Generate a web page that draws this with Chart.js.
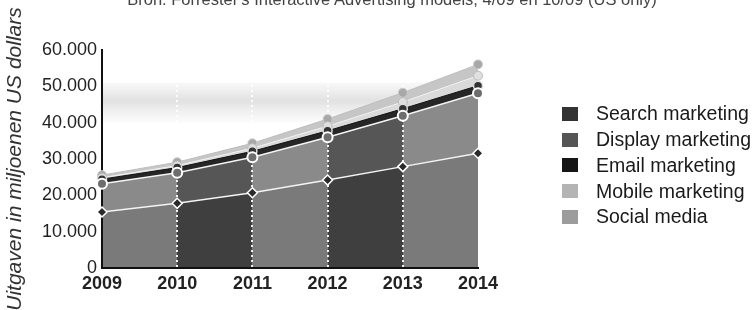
<!DOCTYPE html>
<html>
<head>
<meta charset="utf-8">
<script src="https://cdn.jsdelivr.net/npm/chart.js"></script>
<style>
  body { margin: 0; background: #fff; }
  #wrap { position: relative; width: 755px; height: 310px; overflow: hidden; font-family: "Liberation Sans", Arial, sans-serif; }
  #chart { position: absolute; left: 0; top: 0; }
  #bron { position: absolute; left: 392px; top: -11px; transform: translateX(-50%); white-space: nowrap; font-size: 16.5px; line-height: 20px; color: #444; }
  #legend { position: absolute; left: 562px; top: 101px; }
  .item { display: flex; align-items: center; height: 25.75px; font-size: 19.5px; color: #1a1a1a; white-space: nowrap; }
  .box { width: 16px; height: 14px; margin-right: 18px; }
</style>
</head>
<body>
<div id="wrap">
  <canvas id="chart" width="755" height="310"></canvas>
  <div id="bron">Bron: Forrester's Interactive Advertising models, 4/09 en 10/09 (US only)</div>
  <div id="legend"></div>
</div>
<script>
// values in millions of US dollars
const years = ["2009", "2010", "2011", "2012", "2013", "2014"];
const search = [15400, 17800, 20700, 24200, 27900, 31600];
const display = [7800, 8400, 9800, 11800, 14000, 16500];
const email = [1250, 1430, 1620, 1770, 1930, 2080];
const mobile = [390, 560, 860, 1270, 1850, 2750];
const social = [720, 940, 1350, 1960, 2560, 3110];
const seriesNames = ["Search marketing", "Display marketing", "Email marketing", "Mobile marketing", "Social media"];
const yTicks = [0, 10000, 20000, 30000, 40000, 50000, 60000];

// even / odd year spans are shaded differently in the original
const areaColors = [["#7a7a7a", "#3f3f3f"], ["#8a8a8a", "#565656"], ["#262626", "#262626"], ["#dadada", "#dadada"], ["#c6c6c6", "#c6c6c6"]];
const lineColors = ["#f4f4f4", "#f4f4f4", "#111111", "#f0f0f0", "#bdbdbd"];
const swatchColors = ["#333333", "#555555", "#161616", "#b4b4b4", "#9c9c9c"];

const fmt = v => String(v).replace(/\B(?=(\d{3})+(?!\d))/g, ".");

// horizontal gradient with hard stops at every year
function yearShade(chart, i) {
    const a = chart.chartArea;
    const cols = areaColors[i];
    if (!a || cols[0] === cols[1]) return cols[0];
    const xs = chart.scales.x;
    const w = a.right - a.left;
    const g = chart.ctx.createLinearGradient(a.left, 0, a.right, 0);
    for (let k = 0; k < years.length - 1; k++) {
        const p0 = Math.min(1, Math.max(0, (xs.getPixelForValue(k) - a.left) / w));
        const p1 = Math.min(1, Math.max(0, (xs.getPixelForValue(k + 1) - a.left) / w));
        g.addColorStop(p0, cols[k % 2]);
        g.addColorStop(p1, cols[k % 2]);
    }
    return g;
}

// light grey band that runs across the scanned original
const scanBand = {
    id: "scanBand",
    beforeDraw(chart) {
        const { ctx, chartArea: a, scales: { y } } = chart;
        const top = y.getPixelForValue(51000);
        const bot = y.getPixelForValue(40000);
        const g = ctx.createLinearGradient(0, top, 0, bot);
        g.addColorStop(0, "rgba(232,232,232,0.3)");
        g.addColorStop(0.45, "rgba(225,225,225,1)");
        g.addColorStop(1, "rgba(236,236,236,0.2)");
        ctx.save();
        ctx.globalCompositeOperation = "destination-over";
        ctx.fillStyle = g;
        ctx.fillRect(a.left, top, a.right - a.left - 10, bot - top);
        ctx.restore();
    }
};

const allData = [search, display, email, mobile, social];
const points = [
    { pointStyle: "rectRot", pointRadius: 5, pointBackgroundColor: "#2a2a2a", pointBorderColor: "#fff", pointBorderWidth: 1.5 },
    { pointStyle: "circle", pointRadius: 5, pointBackgroundColor: "#6e6e6e", pointBorderColor: "#fff", pointBorderWidth: 2 },
    { pointStyle: "circle", pointRadius: 4.5, pointBackgroundColor: "#333", pointBorderColor: "#ddd", pointBorderWidth: 1.5 },
    { pointStyle: "circle", pointRadius: 4.5, pointBackgroundColor: "#e0e0e0", pointBorderColor: "#bbb", pointBorderWidth: 1 },
    { pointStyle: "circle", pointRadius: 4.5, pointBackgroundColor: "#a8a8a8", pointBorderColor: "#ccc", pointBorderWidth: 1 }
];

// fills are painted from the last dataset to the first, so the two lowest
// series can both fill from the origin (index 0 as a target is skipped)
const datasets = allData.map((d, i) => Object.assign({
    label: seriesNames[i],
    data: d,
    fill: i < 2 ? "origin" : "-1",
    backgroundColor: c => yearShade(c.chart, i),
    borderColor: lineColors[i],
    borderWidth: i < 2 ? 1.5 : 1,
    clip: false
}, points[i]));

new Chart(document.getElementById("chart"), {
    type: "line",
    data: { labels: years, datasets: datasets },
    options: {
        responsive: false,
        animation: false,
        events: [],
        layout: { padding: { top: 50, right: 277, left: 0, bottom: 0 } },
        elements: { line: { tension: 0 } },
        plugins: {
            legend: { display: false },
            tooltip: { enabled: false },
            filler: { drawTime: "beforeDraw" }
        },
        scales: {
            x: {
                offset: false,
                grid: {
                    drawTicks: false,
                    lineWidth: 2,
                    color: c => (c.index === 0 || c.index === years.length - 1) ? "rgba(0,0,0,0)" : "rgba(255,255,255,0.9)"
                },
                border: { color: "#111", width: 2, dash: [2, 3] },
                ticks: { color: "#222", padding: 5, font: { size: 18, weight: "bold" } },
                afterFit: s => { s.height = 42; }
            },
            y: {
                stacked: true,
                min: 0,
                max: 60000,
                grid: { display: false, drawTicks: false },
                border: { color: "#111", width: 2 },
                afterBuildTicks: s => { s.ticks = yTicks.map(v => ({ value: v })); },
                ticks: { color: "#222", padding: 5, font: { size: 18 }, callback: v => fmt(v) },
                title: {
                    display: true,
                    text: "Uitgaven in miljoenen US dollars",
                    color: "#333",
                    font: { size: 21, style: "italic" },
                    padding: { top: 3, bottom: 0 }
                },
                afterFit: s => { s.width = 102; }
            }
        }
    },
    plugins: [scanBand]
});

const legend = document.getElementById("legend");
seriesNames.forEach((name, i) => {
    const row = document.createElement("div");
    row.className = "item";
    const box = document.createElement("span");
    box.className = "box";
    box.style.background = swatchColors[i];
    row.appendChild(box);
    row.appendChild(document.createTextNode(name));
    legend.appendChild(row);
});
</script>
</body>
</html>
